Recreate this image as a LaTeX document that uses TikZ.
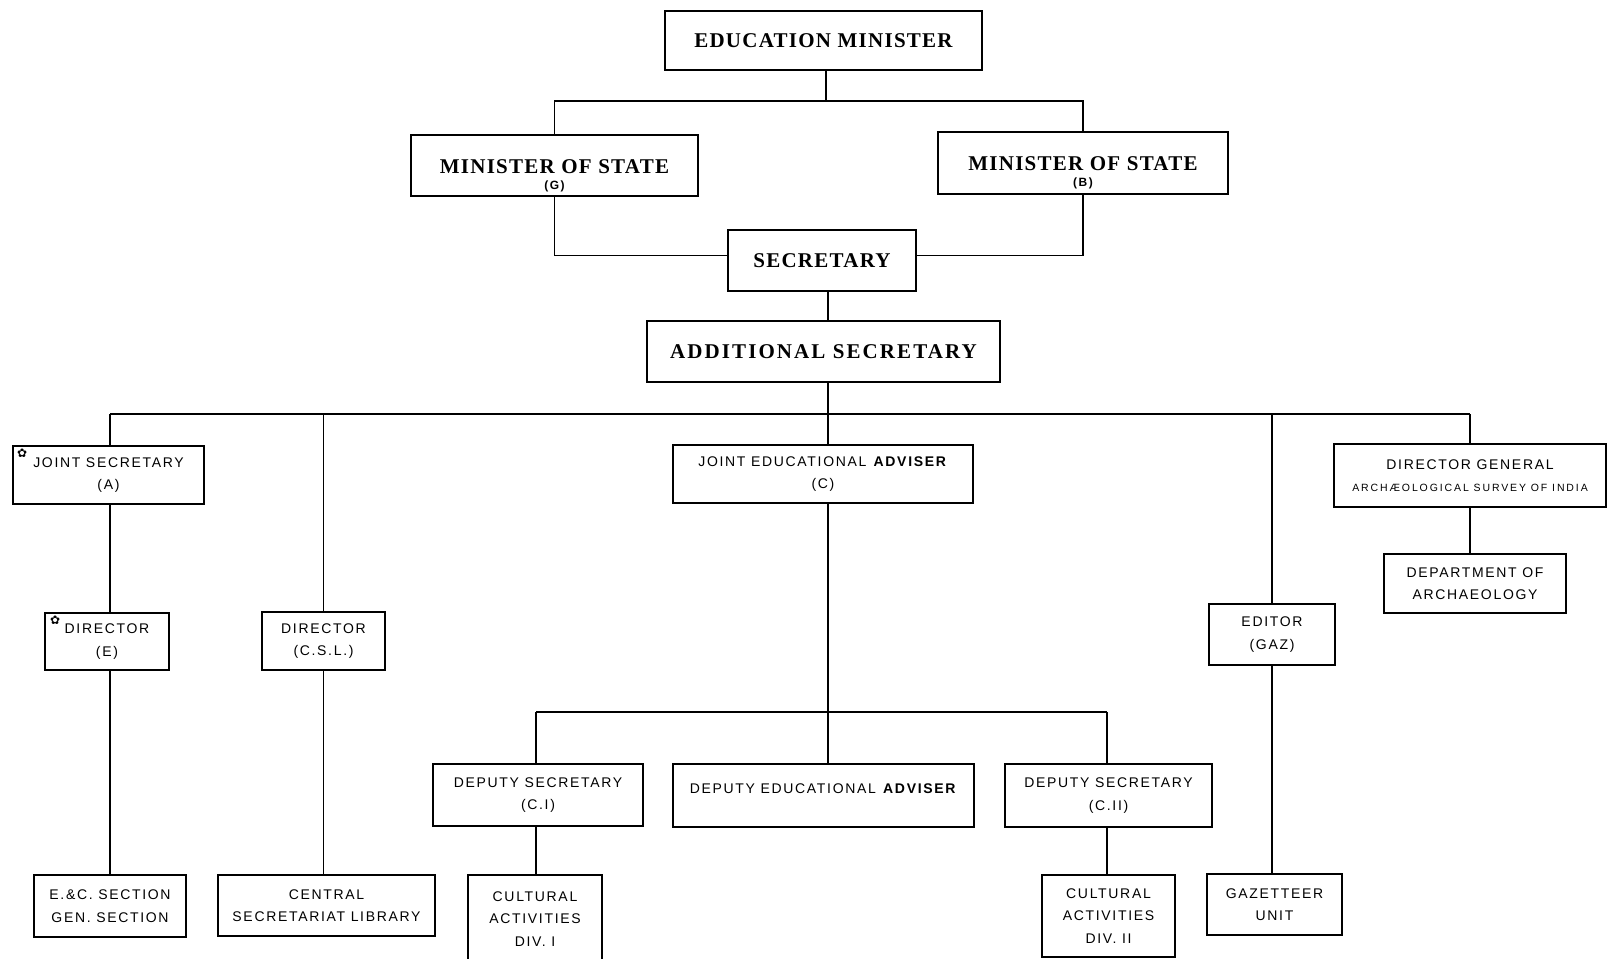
\documentclass[tikz,border=0pt]{standalone}
\usepackage{fontspec}
\setmainfont{Liberation Serif}
\newfontfamily\tserif[LetterSpace=6]{Liberation Serif}
\newfontfamily\lsans[LetterSpace=12]{Liberation Sans}
\newfontfamily\lsym{DejaVu Sans}
\usetikzlibrary{calc}
\begin{document}
\begin{tikzpicture}[x=1pt,y=-1pt,
  topbox/.style={draw, line width=1.6pt, inner sep=0pt, align=center,
     font={\tserif\bfseries\fontsize{21}{16}\selectfont}},
  lowbox/.style={draw, line width=2pt, inner sep=0pt, align=center,
     font={\lsans\fontsize{14}{22.5}\selectfont}},
  link/.style={line width=1.3pt}]
\useasboundingbox (0,0) rectangle (1608,958);
\newcommand{\smalltag}[1]{{\lsans\bfseries\fontsize{12}{12}\selectfont #1}}
\newcommand{\starmark}{\lsym\fontsize{12}{12}\selectfont ✿}
% top
\node[topbox, minimum width=317pt, minimum height=59pt] (em) at (823.5,40.5) {EDUCATION MINISTER};
\node[topbox, minimum width=287pt, minimum height=61pt] (msg) at (554.5,165.5) {\mbox{}\\[18pt]MINISTER OF STATE\\\smalltag{(G)}};
\node[topbox, minimum width=290pt, minimum height=62pt] (msb) at (1083,163) {\mbox{}\\[18pt]MINISTER OF STATE\\\smalltag{(B)}};
\node[topbox, minimum width=188pt, minimum height=61pt] (sec) at (822,260.5) {SECRETARY};
\node[topbox, minimum width=353pt, minimum height=61pt, font={\tserif\addfontfeature{LetterSpace=10}\bfseries\fontsize{21}{18}\selectfont}] (as) at (823.5,351.5) {ADDITIONAL SECRETARY};
% second row
\node[lowbox, minimum width=191pt, minimum height=58pt,
  label={[anchor=north west, inner sep=0pt, xshift=5pt, yshift=-4pt]north west:{\starmark}}] (jsa) at (108.5,475) {JOINT SECRETARY\\(A)};
\node[lowbox, minimum width=124pt, minimum height=57pt,
  label={[anchor=north west, inner sep=0pt, xshift=6pt, yshift=-4pt]north west:{\starmark}}] (dire) at (107,641.5) {DIRECTOR\\(E)};
\node[lowbox, minimum width=123pt, minimum height=58pt] (dircsl) at (323.5,641) {DIRECTOR\\(C.S.L.)};
\node[lowbox, minimum width=300pt, minimum height=58pt] (jea) at (823,474) {JOINT EDUCATIONAL \textbf{ADVISER}\\(C)};
\node[lowbox, minimum width=272pt, minimum height=63pt] (dg) at (1470,475.5) {DIRECTOR GENERAL\\{\addfontfeature{LetterSpace=18}\fontsize{10.5}{14}\selectfont ARCHÆOLOGICAL SURVEY OF INDIA}};
\node[lowbox, minimum width=182pt, minimum height=59pt] (doa) at (1475,583.5) {DEPARTMENT OF\\ARCHAEOLOGY};
\node[lowbox, minimum width=126pt, minimum height=61pt] (ed) at (1272,634.5) {EDITOR\\(GAZ)};
% third row
\node[lowbox, minimum width=210pt, minimum height=62pt] (dsa) at (538,795) {DEPUTY SECRETARY\\(C.I)};
\node[lowbox, minimum width=301pt, minimum height=63pt, text depth=14pt] (dea) at (823.5,795.5) {DEPUTY EDUCATIONAL \textbf{ADVISER}};
\node[lowbox, minimum width=207pt, minimum height=63pt] (dsb) at (1108.5,795.5) {DEPUTY SECRETARY\\(C.II)};
% bottom row
\node[lowbox, minimum width=152pt, minimum height=62pt] (ec) at (110,906) {E.\&C. SECTION\\GEN. SECTION};
\node[lowbox, minimum width=217pt, minimum height=61pt] (csl) at (326.5,905.5) {CENTRAL\\SECRETARIAT LIBRARY};
\node[lowbox, minimum width=134pt, minimum height=88pt] (caa) at (535,919) {CULTURAL\\ACTIVITIES\\DIV. I};
\node[lowbox, minimum width=133pt, minimum height=82pt] (cab) at (1108.5,916) {CULTURAL\\ACTIVITIES\\DIV. II};
\node[lowbox, minimum width=135pt, minimum height=61pt] (gaz) at (1274.5,904.5) {GAZETTEER\\UNIT};
% connectors: top
\coordinate (tb) at (826,101);
\draw[link] (em.south -| tb) -- (tb);
\draw[link] (msg.north) |- (tb) -| (msb.north);
\draw[link] (msg.south) |- ($(sec.west)+(0,-5)$);
\draw[link] (msb.south) |- ($(sec.east)+(0,-5)$);
\coordinate (sx) at (828,0);
\draw[link] (sec.south -| sx) -- (as.north -| sx);
% bus
\coordinate (bus) at (828,414);
\draw[link] (as.south -| sx) -- (bus);
\coordinate (bl) at (110,414);
\coordinate (br) at (1470,414);
\draw[link] (bl) -- (br);
\draw[link] (bl) -- (jsa.north -| bl);
\draw[link] (jsa.south -| bl) -- (dire.north -| bl);
\draw[link] (dire.south -| bl) -- (ec.north -| bl);
\draw[link] (dircsl.north |- bus) -- (dircsl.north);
\draw[link] (dircsl.south) -- (dircsl.south |- csl.north);
\draw[link] (bus) -- (jea.north -| bus);
\draw[link] (ed.north |- bus) -- (ed.north);
\draw[link] (ed.south) -- (ed.south |- gaz.north);
\draw[link] (br) -- (dg.north -| br);
\draw[link] (dg.south -| br) -- (doa.north -| br);
% lower tree
\coordinate (lb) at (828,712);
\draw[link] (jea.south -| lb) -- (lb);
\coordinate (ll) at (536,712);
\coordinate (lr) at (1107,712);
\draw[link] (ll) -- (lr);
\draw[link] (ll) -- (dsa.north -| ll);
\draw[link] (lb) -- (dea.north -| lb);
\draw[link] (lr) -- (dsb.north -| lr);
\draw[link] (dsa.south -| ll) -- (caa.north -| ll);
\draw[link] (dsb.south -| lr) -- (cab.north -| lr);
\end{tikzpicture}
\end{document}
